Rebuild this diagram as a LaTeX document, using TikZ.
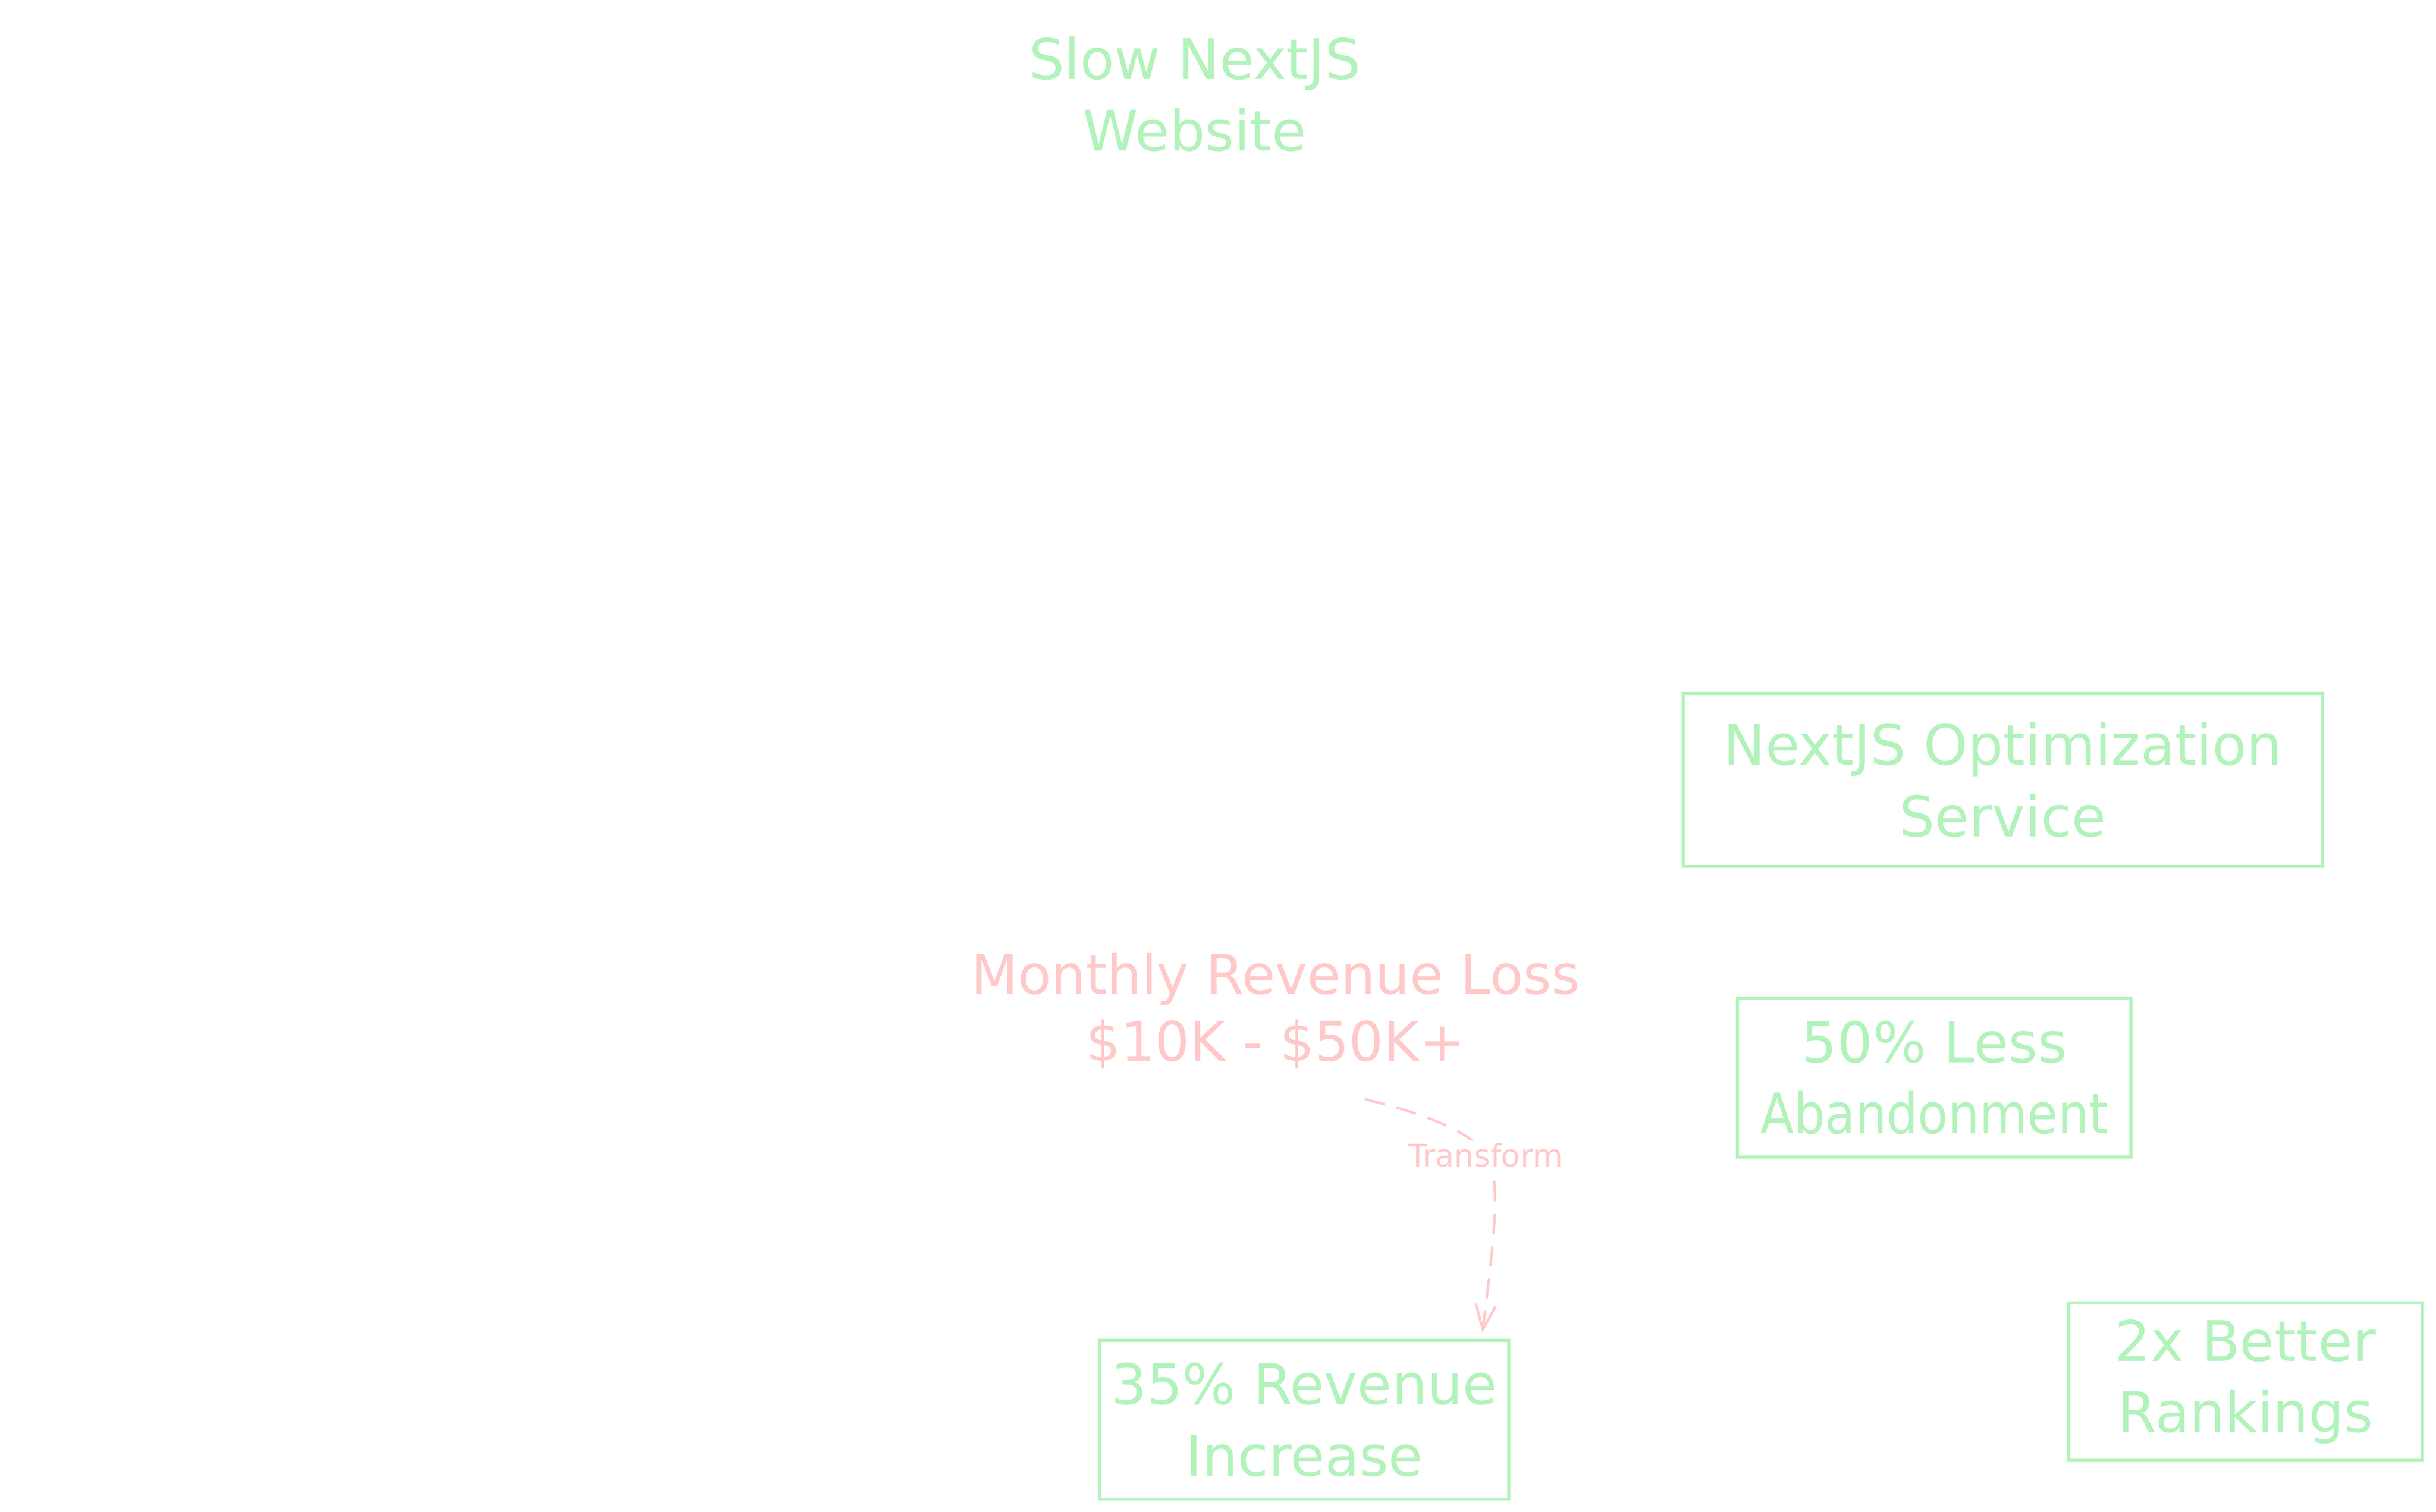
\documentclass[tikz,border=0pt]{standalone}
\usepackage{fontspec}
\setmainfont{DejaVu Sans}
\usetikzlibrary{arrows.meta}
\definecolor{mintg}{HTML}{B2F2BB}
\definecolor{rosep}{HTML}{FFC9C9}
\begin{document}
\begin{tikzpicture}[x=1pt,y=-1pt,
  gtext/.style={text=mintg, align=center, font=\fontsize{36}{46}\selectfont},
  ptext/.style={text=rosep, align=center, font=\fontsize{35}{43}\selectfont},
  gbox/.style={gtext, draw=mintg, line width=2pt, inner sep=0pt},
  flowline/.style={draw=rosep, line width=1.6pt, dash pattern=on 12pt off 9pt, line cap=round,
    -{Straight Barb[length=16pt,width=13pt,line width=1.6pt]}},
  lbl/.style={text=rosep, fill=white, inner sep=2pt, font=\fontsize{20}{24}\selectfont}]
\useasboundingbox (0,0) rectangle (1566,972.3);
\node[gtext] (title) at (768,60.5) {Slow NextJS\\Website};
\node[gbox, minimum width=411pt, minimum height=111pt] (opt) at (1287.5,501.5) {NextJS Optimization\\Service};
\node[ptext] (loss) at (820,650) {Monthly Revenue Loss\\\$10K - \$50K+};
\node[gbox, minimum width=263pt, minimum height=102pt] (inc) at (838.5,913) {35\% Revenue\\Increase};
\node[gbox, minimum width=253pt, minimum height=102pt] (aband) at (1243.5,693) {50\% Less\\\scalebox{0.88}[1]{Abandonment}};
\node[gbox, minimum width=227pt, minimum height=101pt] (rank) at (1443.5,888.5) {2x Better\\Rankings};
\coordinate (src) at (878,707);
\coordinate (mid) at (957,745);
\draw[flowline] (src) .. controls (915,716) and (948,728) .. (mid)
  .. controls (966,762) and (958,815) .. ([xshift=-18pt,yshift=4pt]inc.north east);
\node[lbl] (tlabel) at (955,743) {Transform};
\end{tikzpicture}
\end{document}
